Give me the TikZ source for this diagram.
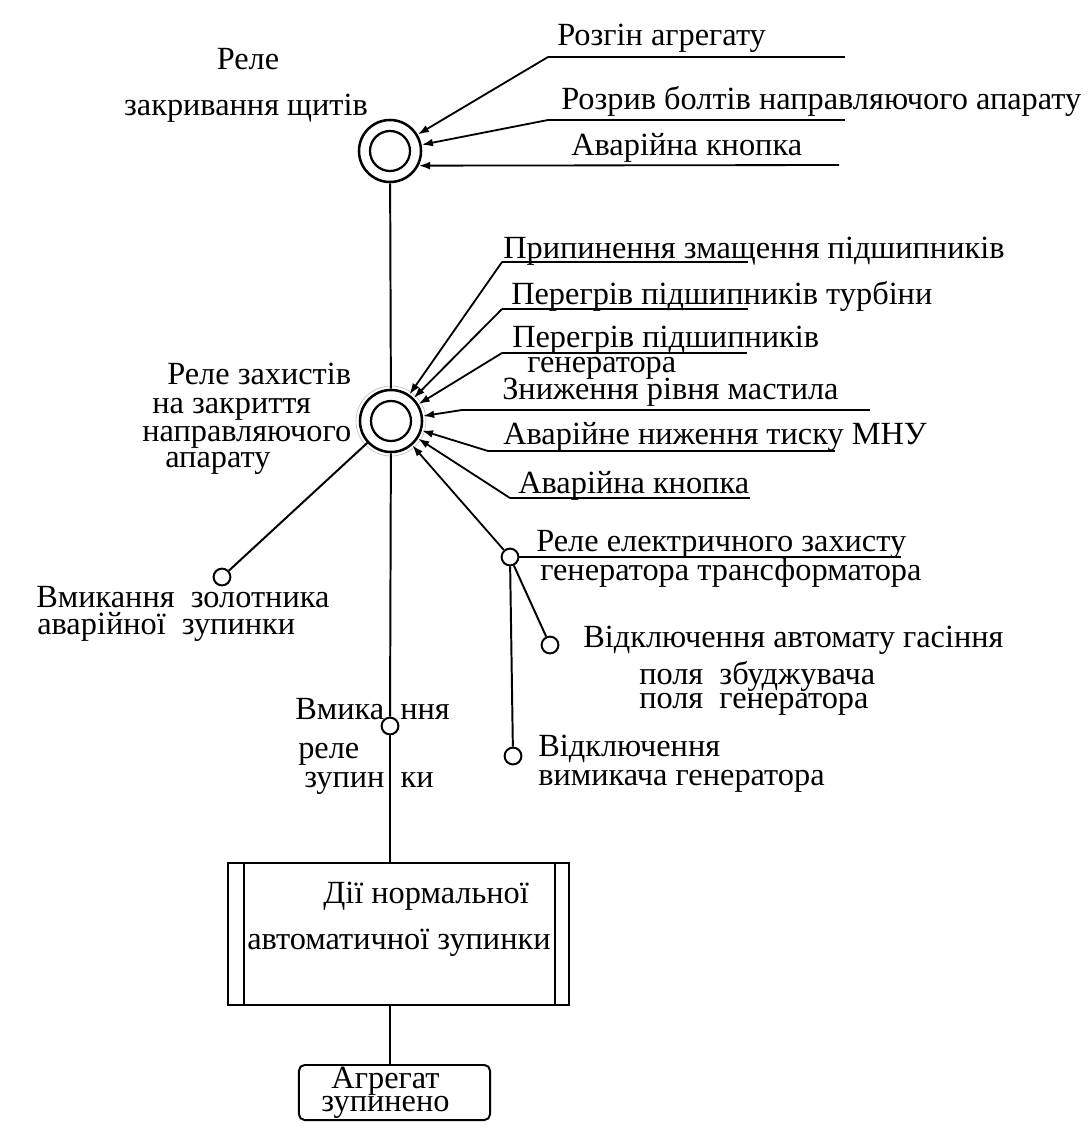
\documentclass[tikz,border=0pt]{standalone}
\usepackage{fontspec}
\setmainfont{Liberation Serif}
\usetikzlibrary{arrows.meta}

\begin{document}
\begin{tikzpicture}[x=0.025cm, y=-0.025cm,
        font=\fontsize{23}{27}\selectfont,
        relay/.style={circle, draw, line width=1.8pt, minimum size=1.55cm, inner sep=0pt,
            path picture={\draw[line width=1.6pt] (path picture bounding box.center) circle[radius=0.5cm];}},
        tap/.style={circle, draw, line width=1.4pt, minimum size=0.42cm, inner sep=0pt},
        txt/.style={anchor=west, inner sep=0pt, text height=13pt, text depth=3pt},
        procbox/.style={rectangle, draw, line width=1.4pt, minimum width=8.525cm, minimum height=3.55cm,
            path picture={
                \draw[line width=1.4pt] ([xshift=0.4cm]path picture bounding box.north west) -- ([xshift=0.4cm]path picture bounding box.south west);
                \draw[line width=1.4pt] ([xshift=-0.35cm]path picture bounding box.north east) -- ([xshift=-0.35cm]path picture bounding box.south east);}},
        stopbox/.style={rectangle, rounded corners=4pt, draw, line width=1.4pt, minimum width=4.775cm, minimum height=1.375cm,
            inner sep=0pt, align=center, font=\fontsize{23}{16.5}\selectfont},
        link/.style={line width=1.4pt},
        arrow/.style={-{Latex[length=8pt,width=5.5pt]}, line width=1.3pt}]

        \useasboundingbox (0,0) rectangle (1088,1145);

        % Relay closing the shields
        \node[relay] (T) at (390,151) {};
        \node (tname1) at (248,59) {Реле};
        \node (tname2) at (246,108) {закривання щитів};

        % Its inputs
        \node[txt] (a1) at (557,38) {Розгін агрегату};
        \node[txt] (a2) at (561,102) {Розрив болтів направляючого апарату};
        \node[txt] (a3) at (571,148) {Аварійна кнопка};
        \coordinate (a1s) at (548,57);
        \coordinate (a1e) at (845,57);
        \coordinate (a2s) at (548,120);
        \coordinate (a2e) at (845,120);
        \coordinate (a3e) at (839,165);

        \draw[link] (a1s) -- (a1e);
        \draw[link] (a2s) -- (a2e);
        \draw[arrow] (a1s) -- (T);
        \draw[arrow] (a2s) -- (T);
        \draw[arrow] (a3e) -- (T.-27);

        % Protection relay of the guide vane
        \node[relay] (M) at (391,421) {};
        \draw[gray!55, thin] (M) circle[radius=0.875cm];
        \node[txt] (mname1) at (167,377) {Реле захистів};
        \node[txt] (mname2) at (152,406) {на закриття};
        \node[txt] (mname3) at (142,434) {направляючого};
        \node[txt] (mname4) at (165,460) {апарату};

        \draw[link] (T) -- (M);

        % Its inputs
        \node[txt] (b1) at (503,251) {Припинення змащення підшипників};
        \node[txt] (b2) at (511,297) {Перегрів підшипників турбіни};
        \node[txt] (b3) at (512,340) {Перегрів підшипників};
        \node[txt] (b3b) at (527,365) {генератора};
        \node[txt] (b4) at (502,392) {Зниження рівня мастила};
        \node[txt] (b5) at (503,437) {Аварійне ниження тиску МНУ};
        \node[txt] (b6) at (518,486) {Аварійна кнопка};
        \coordinate (b1s) at (502,262);
        \coordinate (b1e) at (748,262);
        \coordinate (b2s) at (502,309);
        \coordinate (b2e) at (748,309);
        \coordinate (b3s) at (502,353);
        \coordinate (b3e) at (747,353);
        \coordinate (b4s) at (462,410);
        \coordinate (b4e) at (870,410);
        \coordinate (b5s) at (488,451);
        \coordinate (b5e) at (835,451);
        \coordinate (b6s) at (510,498);
        \coordinate (b6e) at (750,498);

        \draw[link] (b1s) -- (b1e);
        \draw[link] (b2s) -- (b2e);
        \draw[link] (b3s) -- (b3e);
        \draw[link] (b4s) -- (b4e);
        \draw[link] (b5s) -- (b5e);
        \draw[link] (b6s) -- (b6e);
        \draw[arrow] (b1s) -- (M);
        \draw[arrow] (b2s) -- (M);
        \draw[arrow] (b3s) -- (M);
        \draw[arrow] (b4s) -- (M);
        \draw[arrow] (b5s) -- (M);
        \draw[arrow] (b6s) -- (M);

        % Electrical protection relay
        \node[tap] (E) at (510,557) {};
        \coordinate (e1e) at (901,557);
        \node[txt] (e1) at (536,544) {Реле електричного захисту};
        \node[txt] (e2) at (540,573) {генератора трансформатора};
        \draw[link] (E) -- (e1e);
        \draw[arrow] (E) -- (M);

        \node[tap] (A) at (550,645) {};
        \node[txt] (a1txt) at (583,640) {Відключення автомату гасіння};
        \node[txt] (a2txt) at (639,677) {поля\ \ збуджувача};
        \node[txt] (a3txt) at (639,701) {поля\ \ генератора};

        \node[tap] (V) at (513,756) {};
        \node[txt] (v1) at (538,749) {Відключення};
        \node[txt] (v2) at (538,778) {вимикача генератора};

        \draw[link] (E) -- (A);
        \draw[link] (E) -- (V);

        % Emergency spool
        \node[tap] (G) at (222,577) {};
        \node[txt] (g1) at (36,600) {Вмикання\ \ золотника};
        \node[txt] (g2) at (37,627) {аварійної\ \ зупинки};
        \draw[link] (M) -- (G);

        % Stop relay
        \node[tap] (S) at (390,726) {};
        \node[txt] (s1) at (295,712) {Вмика\ \ ння};
        \node[txt] (s2) at (298,751) {реле};
        \node[txt] (s3) at (304,780) {зупин\ \ ки};
        \draw[link] (M) -- (S);

        % Normal automatic stop
        \node[procbox] (proc) at (398.5,934) {};
        \node[txt] (p1) at (323,896) {Дії нормальної};
        \node[txt] (p2) at (247,942) {автоматичної зупинки};

        \node[stopbox] (stop) at (394.5,1092.5) {Агрегат\hspace*{0.45cm}\\зупинено\hspace*{0.45cm}};

        \draw[link] (S) -- (S |- proc.north);
        \draw[link] (S |- proc.south) -- (S |- stop.north);

\end{tikzpicture}
\end{document}
